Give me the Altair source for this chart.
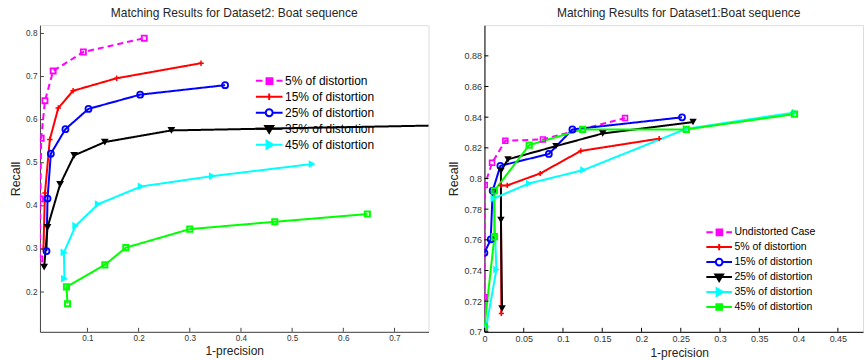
import altair as alt
import pandas as pd

FONT = "Liberation Sans"

# ---------------- Left panel: Dataset2 ----------------
L_TITLE = "Matching Results for Dataset2: Boat sequence"
L_NAMES = ["5% of distortion", "15% of distortion", "25% of distortion",
           "35% of distortion", "45% of distortion", "55% of distortion"]
L_LEGEND = L_NAMES[:5]
L_X = [
    [0.007, 0.008, 0.0096, 0.017, 0.033, 0.092, 0.211],
    [0.014, 0.017, 0.0265, 0.043, 0.072, 0.157, 0.322],
    [0.020, 0.022, 0.0285, 0.057, 0.102, 0.203, 0.369],
    [0.0154, 0.022, 0.0466, 0.074, 0.134, 0.264, 0.85],
    [0.055, 0.054, 0.077, 0.121, 0.205, 0.344, 0.539],
    [0.061, 0.059, 0.134, 0.175, 0.300, 0.466, 0.647],
]
L_Y = [
    [0.277, 0.416, 0.557, 0.644, 0.713, 0.757, 0.789],
    [0.300, 0.430, 0.554, 0.627, 0.667, 0.696, 0.731],
    [0.295, 0.417, 0.521, 0.578, 0.625, 0.658, 0.680],
    [0.258, 0.350, 0.450, 0.517, 0.548, 0.575, 0.588],
    [0.231, 0.292, 0.354, 0.404, 0.445, 0.469, 0.497],
    [0.173, 0.212, 0.263, 0.303, 0.346, 0.363, 0.381],
]
L_XTICKS = [0.1, 0.2, 0.3, 0.4, 0.5, 0.6, 0.7]
L_YTICKS = [0.2, 0.3, 0.4, 0.5, 0.6, 0.7, 0.8]

# ---------------- Right panel: Dataset1 ----------------
R_TITLE = "Matching Results for Dataset1:Boat sequence"
R_NAMES = ["Undistorted Case", "5% of distortion", "15% of distortion",
           "25% of distortion", "35% of distortion", "45% of distortion"]
R_LEGEND = list(R_NAMES)
R_X = [
    [0.0, 0.0, 0.0004, 0.0097, 0.0266, 0.0745, 0.179],
    [0.0215, 0.021, 0.029, 0.071, 0.1227, 0.2225],
    [0.0, 0.008, 0.0105, 0.0203, 0.082, 0.112, 0.2516],
    [0.0224, 0.021, 0.021, 0.030, 0.091, 0.1506, 0.2656],
    [0.0025, 0.0152, 0.0118, 0.057, 0.126, 0.257, 0.3955],
    [0.0, 0.0127, 0.0127, 0.057, 0.125, 0.257, 0.3947],
]
R_Y = [
    [0.702, 0.7226, 0.7957, 0.8102, 0.8246, 0.8255, 0.8394],
    [0.712, 0.7955, 0.7955, 0.8033, 0.818, 0.826],
    [0.7515, 0.7603, 0.792, 0.8083, 0.816, 0.832, 0.8399],
    [0.7152, 0.7729, 0.805, 0.8125, 0.8211, 0.8294, 0.8368],
    [0.7037, 0.7407, 0.787, 0.7968, 0.8055, 0.8324, 0.8431],
    [0.7033, 0.762, 0.792, 0.8218, 0.832, 0.832, 0.842],
]
R_XTICKS = [0, 0.05, 0.1, 0.15, 0.2, 0.25, 0.3, 0.35, 0.4, 0.45]
R_YTICKS = [0.7, 0.72, 0.74, 0.76, 0.78, 0.8, 0.82, 0.84, 0.86, 0.88]

COLORS = ["#ff00ff", "#ff0000", "#0000ff", "#000000", "#00ffff", "#00ff00"]
DASHES = [[6, 4], [1, 0], [1, 0], [1, 0], [1, 0], [1, 0]]
SERIES_KEYS = ["s0", "s1", "s2", "s3", "s4", "s5"]

PLUS = "M-1,0H1M0,-1V1"
# (shape, filled, size, strokeWidth)
L_MARKERS = [("square", False, 26, 1.8), (PLUS, False, 30, 1.5),
             ("circle", False, 36, 1.8), ("triangle-down", True, 60, 1),
             ("triangle-right", True, 60, 1), ("square", False, 26, 2)]
R_MARKERS = [("square", False, 24, 1.6), (PLUS, False, 26, 1.5),
             ("circle", False, 36, 1.8), ("triangle-down", True, 55, 1),
             ("triangle-right", True, 55, 1), ("square", False, 28, 2)]

# legend symbols: line segment + marker, in the [-1,1] box
SYM_DASH_SQ = "M-1,0H-0.5M0.55,0H1M-0.2,-0.2H0.24V0.24H-0.2Z"
SYM_PLUS = "M-1,0H1M0,-0.24V0.24"
SYM_CIRC = "M-1,0H-0.26M0.26,0H1M0.26,0A0.26,0.26,0,1,1,-0.26,0A0.26,0.26,0,1,1,0.26,0Z"
SYM_TDOWN = "M-1,0H1M-0.3,-0.2L0.3,-0.2L0,0.3Z"
SYM_TRIGHT = "M-1,0H1M-0.2,-0.3L-0.2,0.3L0.3,0Z"
SYM_SQ = "M-1,0H1M-0.22,-0.22H0.22V0.22H-0.22Z"
L_SYMS = [SYM_DASH_SQ, SYM_PLUS, SYM_CIRC, SYM_TDOWN, SYM_TRIGHT]
L_FILLS = ["#ff00ff", "#ff0000", "transparent", "#000000", "#00ffff"]
R_SYMS = [SYM_DASH_SQ, SYM_PLUS, SYM_CIRC, SYM_TDOWN, SYM_TRIGHT, SYM_SQ]
R_FILLS = ["#ff00ff", "#ff0000", "transparent", "#000000", "#00ffff", "#00ff00"]


def long_df(names, xs, ys):
    rows = []
    for k, n, xv, yv in zip(SERIES_KEYS, names, xs, ys):
        for i, (a, b) in enumerate(zip(xv, yv)):
            rows.append({"sid": k, "series": n, "x": a, "y": b, "idx": i})
    return pd.DataFrame(rows)


def panel(names, xs, ys, markers, legend_labels, syms, fills, xdom, ydom,
          xticks, yticks, w, h, title, title_dx, xtitle_x, leg_x, leg_y,
          leg_font, leg_size, leg_clip, tick_font, axis_color):
    df = long_df(names, xs, ys)
    xscale = alt.Scale(domain=xdom, nice=False, zero=False)
    yscale = alt.Scale(domain=ydom, nice=False, zero=False)
    xaxis = alt.Axis(values=xticks, format="~g", ticks=False, tickSize=0, grid=False,
                     domainColor=axis_color, domainWidth=1, labelFontSize=tick_font,
                     labelColor="#333333", labelPadding=3, labelFont=FONT,
                     labelFlush=False, labelOverlap=False,
                     title="1-precision", titleFont=FONT, titleFontSize=12,
                     titleFontWeight="normal", titleColor="#222222", titlePadding=4,
                     titleX=xtitle_x)
    yaxis = alt.Axis(values=yticks, format="~g", ticks=False, tickSize=0, grid=False,
                     domainColor=axis_color, domainWidth=1, labelFontSize=tick_font,
                     labelColor="#333333", labelPadding=3, labelFont=FONT,
                     labelFlush=False, labelOverlap=False,
                     title="Recall", titleFont=FONT, titleFontSize=12.5,
                     titleFontWeight="normal", titleColor="#222222", titlePadding=3)
    X = alt.X("x:Q", scale=xscale, axis=xaxis)
    Y = alt.Y("y:Q", scale=yscale, axis=yaxis)
    lines = alt.Chart(df).mark_line(strokeWidth=2, clip=True).encode(
        x=X, y=Y,
        color=alt.Color("sid:N", scale=alt.Scale(domain=SERIES_KEYS, range=COLORS), legend=None),
        strokeDash=alt.StrokeDash("sid:N", scale=alt.Scale(domain=SERIES_KEYS, range=DASHES), legend=None),
        order=alt.Order("idx:Q"),
        detail="sid:N",
    )
    layers = [lines]
    for n, col, (shp, filled, size, sw) in zip(names, COLORS, markers):
        layers.append(
            alt.Chart(df).transform_filter(alt.datum.series == n).mark_point(
                shape=shp, filled=filled, size=size, strokeWidth=sw, color=col,
                opacity=1, clip=True).encode(x=X, y=Y)
        )
    xt = alt.Chart(pd.DataFrame({"x": xticks})).mark_rule(color=axis_color, strokeWidth=1).encode(
        x=X, y=alt.value(h), y2=alt.value(h - 4))
    yt = alt.Chart(pd.DataFrame({"y": yticks})).mark_rule(color=axis_color, strokeWidth=1).encode(
        y=Y, x=alt.value(0), x2=alt.value(4))
    layers += [xt, yt]
    leg = alt.Legend(title=None, orient="none", legendX=leg_x, legendY=leg_y,
                     labelFontSize=leg_font, labelFont=FONT, labelColor="#000000",
                     labelOffset=1.3, symbolSize=leg_size, symbolStrokeWidth=2,
                     symbolOffset=0, padding=0, rowPadding=2, clipHeight=leg_clip,
                     labelLimit=400)
    lg = alt.Chart(pd.DataFrame({"label": legend_labels})).transform_filter("false").mark_point(
        filled=True, opacity=1, strokeWidth=2).encode(
        shape=alt.Shape("label:N", scale=alt.Scale(domain=legend_labels, range=syms), legend=leg),
        fill=alt.Fill("label:N", scale=alt.Scale(domain=legend_labels, range=fills), legend=leg),
        stroke=alt.Stroke("label:N", scale=alt.Scale(domain=legend_labels,
                                                    range=COLORS[:len(legend_labels)]), legend=leg),
    )
    layers.append(lg)
    return alt.layer(*layers).properties(
        width=w, height=h,
        title=alt.TitleParams(title, fontSize=12, font=FONT, fontWeight="normal",
                              color="#262626", offset=5, dx=title_dx),
    )


left = panel(L_NAMES, L_X, L_Y, L_MARKERS, L_LEGEND, L_SYMS, L_FILLS,
             [0.0072, 0.7665], [0.1077, 0.8192], L_XTICKS, L_YTICKS,
             389, 307, L_TITLE, 0, 194.5, 215, 48.7, 12, 713, 14, 8.2, "#444444")
right = panel(R_NAMES, R_X, R_Y, R_MARKERS, R_LEGEND, R_SYMS, R_FILLS,
              [0, 0.482], [0.7, 0.9], R_XTICKS, R_YTICKS,
              379, 307, R_TITLE, 5, 195, 221, 201, 10.5, 660, 12.4, 9, "#000000")

chart = alt.hconcat(left, right, spacing=17).resolve_scale(
    color="independent", strokeDash="independent", shape="independent",
    fill="independent", stroke="independent"
).resolve_legend(
    color="independent", strokeDash="independent", shape="independent",
    fill="independent", stroke="independent"
).properties(
    padding={"left": 9, "top": 6, "right": 0, "bottom": 0}
).configure_view(stroke=None).configure(font=FONT)

chart.save("out.html", embed_options={"renderer": "svg", "actions": False})
